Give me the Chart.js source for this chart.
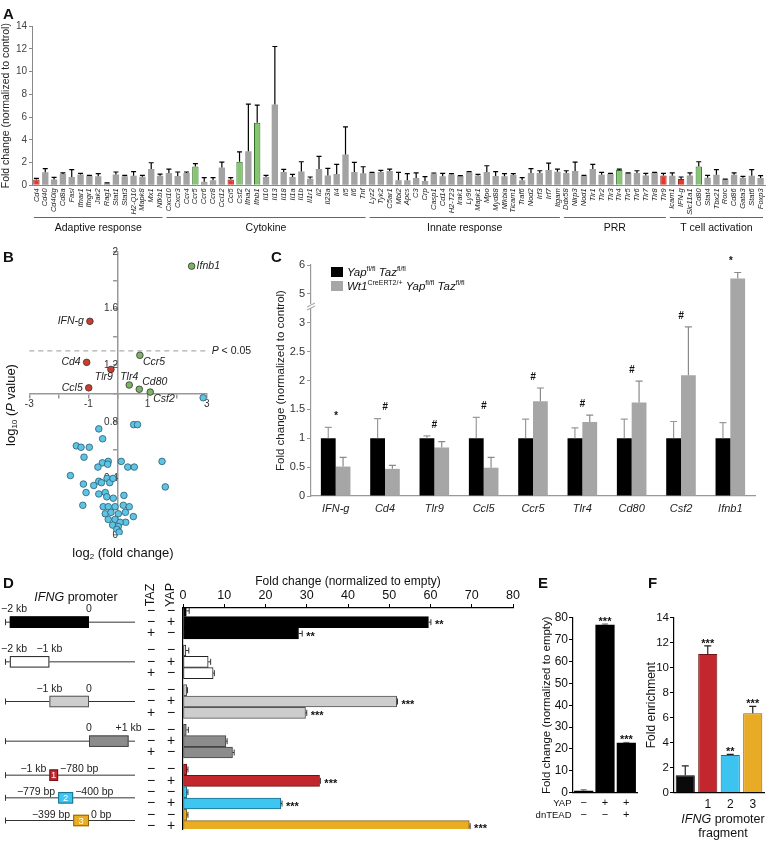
<!DOCTYPE html>
<html>
<head>
<meta charset="utf-8">
<script src="https://cdn.jsdelivr.net/npm/chart.js@4.4.0/dist/chart.umd.min.js"></script>
<style>
  html, body { margin: 0; padding: 0; background: #fff; overflow: hidden; }
  body { font-family: "Liberation Sans", Arial, Helvetica, sans-serif; color: #111; }
  #fig { position: relative; width: 783px; height: 847px; overflow: hidden; }
  canvas { position: absolute; }
  .panel { position: absolute; font-weight: bold; font-size: 15px; line-height: 15px; }
  .txt { position: absolute; white-space: nowrap; }
  .rot { position: absolute; white-space: nowrap; transform: translate(-50%, -50%) rotate(-90deg); }
  .ctr { position: absolute; white-space: nowrap; transform: translate(-50%, -50%); text-align: center; }
  sup { font-size: 7px; vertical-align: 5px; line-height: 0; }
  sub { font-size: 8px; vertical-align: -2px; line-height: 0; }
  .sw { display: inline-block; width: 12px; height: 10px; margin-right: 4px; vertical-align: -1px; }
</style>
</head>
<body>
<div id="fig">
  <canvas id="chartA" width="783" height="240" style="left:0;top:0"></canvas>
  <canvas id="chartB" width="255" height="330" style="left:0;top:240px"></canvas>
  <canvas id="chartC" width="533" height="290" style="left:250px;top:240px"></canvas>
  <canvas id="chartD" width="530" height="287" style="left:0;top:560px"></canvas>
  <canvas id="chartE" width="125" height="287" style="left:520px;top:560px"></canvas>
  <canvas id="chartF" width="143" height="287" style="left:640px;top:560px"></canvas>

  <div class="panel" style="left:3px;top:6px">A</div>
  <div class="panel" style="left:3px;top:249px">B</div>
  <div class="panel" style="left:271px;top:249px">C</div>
  <div class="panel" style="left:3px;top:575px">D</div>
  <div class="panel" style="left:538px;top:575px">E</div>
  <div class="panel" style="left:648px;top:575px">F</div>

  <div class="rot" style="left:10px;top:405px;font-size:13px">log<sub>10</sub> (<i>P</i> value)</div>
  <div class="ctr" style="left:123px;top:552px;font-size:13px">log<sub>2</sub> (fold change)</div>

  <div class="txt" style="left:331px;top:265px;font-size:11.5px;line-height:14px">
    <div><span class="sw" style="background:#000"></span><i>Yap</i><sup>fl/fl</sup> <i>Taz</i><sup>fl/fl</sup></div>
    <div><span class="sw" style="background:#a6a6a6"></span><i>Wt1</i><sup>CreERT2/+</sup> <i>Yap</i><sup>fl/fl</sup> <i>Taz</i><sup>fl/fl</sup></div>
  </div>

  <div class="ctr" style="left:76px;top:597px;font-size:12.5px"><i>IFNG</i> promoter</div>
  <div class="ctr" style="left:723px;top:826px;font-size:12.5px;line-height:14px"><i>IFNG</i> promoter<br>fragment</div>
</div>

<script>
// ---------- data ----------
// A: qPCR array
const aGroups = ['Adaptive response', 'Cytokine', 'Innate response', 'PRR', 'T cell activation'];
const aGroupSizes = [15, 23, 22, 12, 11];
const aGenes = [
  'Cd4','Cd40','Cd40lg','Cd8a','Fasl','Ifnar1','Ifngr1','Jak2','Rag1','Stat1','Stat3','H2-Q10','Mapk8','Mx1','Nfkb1',
  'Cxcl10','Cxcr3','Ccr4','Ccr5','Ccr6','Ccr8','Ccl12','Ccl5','Csf2','Ifna2','Ifnb1','Il10','Il13','Il18','Il1a','Il1b','Il1r1','Il2','Il23a','Il4','Il5','Il6','Tnf',
  'Lyz2','Tyk2','C5ar1','Mbl2','Apcs','C3','Crp','Casp1','Cd14','H2-T23','Irak1','Ly96','Mapk1','Mpo','Myd88','Nfkbia','Ticam1','Traf6','Nod2','Irf3','Irf7','Itgam',
  'Ddx58','Nlrp3','Nod1','Tlr1','Tlr2','Tlr3','Tlr4','Tlr5','Tlr6','Tlr7','Tlr8','Tlr9',
  'Icam1','IFN-g','Slc11a1','Cd80','Stat4','Tbx21','Rorc','Cd86','Gata3','Stat6','Foxp3'
];
const aValues = [
  0.52,1.14,0.5,1.0,0.73,0.95,0.85,0.8,0.15,0.95,0.8,0.85,0.76,1.43,0.85,
  1.08,0.82,1.08,1.66,0.32,0.44,1.57,0.5,2.08,3.0,5.5,0.73,7.1,1.17,0.73,1.22,0.58,1.43,0.87,0.99,2.71,1.17,1.05,
  1.08,1.17,1.25,0.44,0.44,0.64,0.38,1.02,0.79,0.96,0.82,1.14,0.87,1.17,0.82,0.79,0.9,0.44,1.08,1.08,1.34,1.2,
  1.08,1.25,0.82,1.43,0.93,0.99,1.34,1.08,1.08,0.87,1.1,0.87,
  0.85,0.55,0.87,1.66,0.67,0.93,0.52,0.93,0.67,0.85,0.64
];
const aErrors = [
  0.08,0.32,0.2,0.1,0.64,0.1,0.03,0.22,0.07,0.22,0.08,0.35,0.12,0.55,0.14,
  0.35,0.35,0.09,0.24,0.35,0.23,0.47,0.17,0.85,4.14,1.55,0.14,5.1,0.23,0.23,0.85,0.15,1.11,0.62,0.85,2.42,0.84,0.58,
  0.06,0.14,0.18,0.7,0.58,0.46,0.38,0.06,0.26,0.06,0.03,0.06,0.09,0.55,0.38,0.23,0.12,0.23,0.38,0.2,0.61,0.23,
  0.2,0.79,0.05,0.41,0.21,0.06,0.09,0.02,0.2,0.18,0.04,0.18,
  0.25,0.18,0.23,0.41,0.2,0.44,0.03,0.17,0.12,0.52,0.21
];
const aUp = ['Ccr5', 'Csf2', 'Ifnb1', 'Tlr4', 'Cd80'];
const aDown = ['Cd4', 'Ccl5', 'Tlr9', 'IFN-g'];

// B: volcano plot
const bGenes = ['Ifnb1', 'IFN-g', 'Cd4', 'Tlr9', 'Ccl5', 'Ccr5', 'Tlr4', 'Cd80', 'Csf2'];
const bLog2FC = [2.49, -0.95, -1.06, -0.24, -0.99, 0.74, 0.38, 0.72, 1.09];
const bLogP = [1.90, 1.51, 1.22, 1.17, 1.04, 1.27, 1.06, 1.03, 1.01];
const bOtherLog2FC = [
  2.88, -0.65, -0.52, 0.53, 0.66, -1.41, -1.25, -0.97, -1.15, -0.33, -0.53, -0.35, -0.68, 0.11, 0.33, 0.55, 1.49,
  -1.61, -1.17, -0.82, -0.65, -0.56, -0.37, -0.28, -0.17, 1.6, -1.08, -0.65, -0.43, -0.38, 0.2, -0.16, -1.19, -0.5,
  -0.33, -0.1, 0.18, 0.38, -0.43, -0.24, 0.01, 0.25, 0.52, -0.33, -0.1, 0.26, 0.07, -0.18, 0.01, -0.04, 0.04
];
const bOtherLogP = [
  0.97, 0.75, 0.68, 0.78, 0.78, 0.63, 0.62, 0.62, 0.55, 0.52, 0.51, 0.50, 0.48, 0.52, 0.48, 0.48, 0.52,
  0.42, 0.36, 0.35, 0.38, 0.37, 0.40, 0.37, 0.40, 0.34, 0.30, 0.29, 0.30, 0.27, 0.28, 0.26, 0.21, 0.20,
  0.20, 0.20, 0.21, 0.20, 0.15, 0.16, 0.15, 0.16, 0.13, 0.11, 0.11, 0.09, 0.09, 0.07, 0.06, 0.04, 0.02
];
const bThreshold = 0.05;

// C: validation
const cGenes = ['IFN-g', 'Cd4', 'Tlr9', 'Ccl5', 'Ccr5', 'Tlr4', 'Cd80', 'Csf2', 'Ifnb1'];
const cControl = [1, 1, 1, 1, 1, 1, 1, 1, 1];
const cControlErr = [0.19, 0.34, 0.04, 0.36, 0.33, 0.18, 0.33, 0.29, 0.27];
const cMutant = [0.51, 0.47, 0.84, 0.49, 1.64, 1.28, 1.62, 2.09, 5.53];
const cMutantErr = [0.16, 0.06, 0.1, 0.18, 0.23, 0.12, 0.37, 0.84, 0.21];
const cSig = ['*', '#', '#', '#', '#', '#', '#', '#', '*'];
const cTicks = ['0', '0.5', '1', '1.5', '2', '2.5', '3', '5', '6'];

// D: promoter luciferase
const dGroupSizes = [3, 3, 3, 3, 2, 2, 2];
const dTaz = ['−','−','+', '−','−','+', '−','−','+', '−','−','+', '−','−', '−','−', '−','−'];
const dYap = ['−','+','−', '−','+','−', '−','+','−', '−','+','−', '−','+', '−','+', '−','+'];
const dValues = [0.8, 59.5, 28.0, 0.7, 6.1, 7.3, 0.9, 51.8, 29.7, 0.8, 10.4, 12.0, 0.9, 33.1, 0.9, 23.7, 0.9, 69.4];
const dErrors = [0.7, 0.6, 0.9, 0.7, 0.6, 0.3, 0.2, 0.2, 0.3, 0.5, 0.3, 0.4, 0.3, 0.2, 0.3, 0.3, 0.3, 0.2];
const dSig = ['', '**', '**', '', '', '', '', '***', '***', '', '', '', '', '***', '', '***', '', '***'];
const dFragStart = [-2, -2, -1, 0, -1, -0.779, -0.399];   // kb
const dFragEnd = [0, -1, 0, 1, -0.78, -0.4, 0];
const dLeftLabel = ['−2 kb', '−2 kb', '−1 kb', '0', '−1 kb', '−779 bp', '−399 bp'];
const dRightLabel = ['0', '−1 kb', '0', '+1 kb', '−780 bp', '−400 bp', '0 bp'];
const dBoxLabel = ['', '', '', '', '1', '2', '3'];

// E: dnTEAD
const eYap = ['−', '+', '+'];
const eDnTead = ['−', '−', '+'];
const eValues = [0.9, 76.8, 22.8];
const eErrors = [0.4, 0.3, 0.2];
const eSig = ['', '***', '***'];

// F: ChIP
const fLabels = ['', '1', '2', '3'];
const fValues = [1.4, 11.1, 3.02, 6.35];
const fErrors = [0.75, 0.65, 0.05, 0.55];
const fSig = ['', '***', '**', '***'];

// ---------- shared ----------
const FONT = '"Liberation Sans", Arial, Helvetica, sans-serif';
Chart.defaults.font.family = FONT;
Chart.defaults.color = '#222';

const baseOptions = () => ({
  responsive: false,
  animation: false,
  events: [],
  plugins: { legend: { display: false }, tooltip: { enabled: false } }
});

// error whiskers (upper only) from dataset.errTop
const errorBars = {
  id: 'errorBars',
  afterDatasetsDraw(chart) {
    const ctx = chart.ctx;
    const horiz = chart.options.indexAxis === 'y';
    chart.data.datasets.forEach((ds, i) => {
      if (!ds.errTop) return;
      const meta = chart.getDatasetMeta(i);
      const vScale = chart.scales[horiz ? meta.xAxisID : meta.yAxisID];
      ctx.save();
      ctx.strokeStyle = ds.errColor || '#000';
      ctx.lineWidth = ds.errWidth || 1;
      const cap = ds.errCap || 3;
      meta.data.forEach((bar, j) => {
        const v = ds.data[j], top = ds.errTop[j];
        if (v == null || top == null) return;
        const p0 = vScale.getPixelForValue(v), p1 = vScale.getPixelForValue(top);
        ctx.beginPath();
        if (horiz) {
          ctx.moveTo(p0, bar.y); ctx.lineTo(p1, bar.y);
          ctx.moveTo(p1, bar.y - cap); ctx.lineTo(p1, bar.y + cap);
        } else {
          ctx.moveTo(bar.x, p0); ctx.lineTo(bar.x, p1);
          ctx.moveTo(bar.x - cap, p1); ctx.lineTo(bar.x + cap, p1);
        }
        ctx.stroke();
      });
      ctx.restore();
    });
  }
};

// ---------- A ----------
const aColors = aGenes.map(g => aDown.includes(g) ? '#e33b2b' : aUp.includes(g) ? '#86c673' : '#a3a3a3');
const aBorders = aGenes.map(g => aDown.includes(g) ? '#8e1f16' : aUp.includes(g) ? '#2f6a25' : '#a3a3a3');

const aGroupPlugin = {
  id: 'aGroups',
  afterDraw(chart) {
    const ctx = chart.ctx, x = chart.scales.x;
    const half = (x.getPixelForValue(1) - x.getPixelForValue(0)) / 2;
    let start = 0;
    ctx.save();
    ctx.strokeStyle = '#666';
    ctx.lineWidth = 1;
    ctx.fillStyle = '#111';
    ctx.font = '10.5px ' + FONT;
    ctx.textAlign = 'center';
    ctx.textBaseline = 'middle';
    aGroupSizes.forEach((n, g) => {
      const x0 = x.getPixelForValue(start) - half + 2;
      const x1 = x.getPixelForValue(start + n - 1) + half - 2;
      ctx.beginPath();
      ctx.moveTo(x0, 217.5); ctx.lineTo(x1, 217.5);
      ctx.stroke();
      ctx.fillText(aGroups[g], (x0 + x1) / 2, 228);
      start += n;
    });
    ctx.restore();
  }
};

new Chart(document.getElementById('chartA'), {
  type: 'bar',
  data: {
    labels: aGenes,
    datasets: [{
      data: aValues,
      errTop: aValues.map((v, i) => v + aErrors[i]),
      errCap: 2.5,
      errWidth: 1.2,
      backgroundColor: aColors,
      borderColor: aBorders,
      borderWidth: aGenes.map(g => aUp.includes(g) || aDown.includes(g) ? 1 : 0),
      barPercentage: 0.72,
      categoryPercentage: 1
    }]
  },
  options: Object.assign(baseOptions(), {
    layout: { padding: { top: 26, right: 18, left: 0, bottom: 0 } },
    scales: {
      x: {
        grid: { drawOnChartArea: false, drawTicks: false },
        border: { color: '#888' },
        ticks: { autoSkip: false, minRotation: 90, maxRotation: 90, padding: 3,
                 font: { size: 7.5, style: 'italic' }, color: '#222' },
        afterFit: s => { s.height = 54.7; }
      },
      y: {
        min: 0, max: 14,
        ticks: { stepSize: 2, font: { size: 10 }, color: '#444', padding: 2 },
        grid: { drawOnChartArea: false, tickLength: 3, color: '#888' },
        border: { color: '#888' },
        title: { display: true, text: 'Fold change (normalized to control)', font: { size: 10.5 },
                 color: '#222', padding: { top: 0, bottom: 0 } },
        afterFit: s => { s.width = 32; }
      }
    }
  }),
  plugins: [errorBars, aGroupPlugin]
});

// ---------- B ----------
const bLabelPos = ['r', 'l', 'l', 'bl', 'l', 'br', 't', 'tr', 'br'];
const bPlugin = {
  id: 'bExtras',
  beforeDatasetsDraw(chart) {
    const ctx = chart.ctx, ys = chart.scales.y, a = chart.chartArea;
    const yt = ys.getPixelForValue(-Math.log10(bThreshold));
    ctx.save();
    ctx.setLineDash([5, 4]);
    ctx.strokeStyle = '#999';
    ctx.lineWidth = 1;
    ctx.beginPath();
    ctx.moveTo(a.left, yt); ctx.lineTo(a.right + 2, yt);
    ctx.stroke();
    ctx.setLineDash([]);
    ctx.fillStyle = '#222';
    ctx.textBaseline = 'middle';
    ctx.font = 'italic 10.5px ' + FONT;
    const x0 = a.right + 5;
    ctx.fillText('P', x0, yt);
    const w = ctx.measureText('P ').width;
    ctx.font = '10.5px ' + FONT;
    ctx.fillText('< 0.05', x0 + w, yt);
    ctx.restore();
  },
  afterDatasetsDraw(chart) {
    const ctx = chart.ctx, meta = chart.getDatasetMeta(1);
    ctx.save();
    ctx.fillStyle = '#222';
    ctx.font = 'italic 10.5px ' + FONT;
    meta.data.forEach((pt, i) => {
      const p = bLabelPos[i];
      let x = pt.x, y = pt.y;
      ctx.textBaseline = 'middle';
      if (p === 'r') { ctx.textAlign = 'left'; x += 5; }
      else if (p === 'l') { ctx.textAlign = 'right'; x -= 6; }
      else if (p === 'bl') { ctx.textAlign = 'right'; x += 2; y += 8; }
      else if (p === 'br') { ctx.textAlign = 'left'; x += 3; y += 7; }
      else if (p === 't') { ctx.textAlign = 'center'; y -= 8; }
      else if (p === 'tr') { ctx.textAlign = 'left'; x += 3; y -= 7; }
      ctx.fillText(bGenes[i], x, y);
    });
    ctx.restore();
  }
};

new Chart(document.getElementById('chartB'), {
  type: 'scatter',
  data: {
    datasets: [
      {
        data: bOtherLog2FC.map((x, i) => ({ x, y: bOtherLogP[i] })),
        backgroundColor: '#5fc3e4', borderColor: '#2a5d70', borderWidth: 0.8, pointRadius: 3.3
      },
      {
        data: bLog2FC.map((x, i) => ({ x, y: bLogP[i] })),
        backgroundColor: bLog2FC.map(v => v < 0 ? '#d23a2e' : '#79b562'),
        borderColor: '#333', borderWidth: 0.8, pointRadius: 3.3
      }
    ]
  },
  options: Object.assign(baseOptions(), {
    layout: { padding: { left: 29.3, right: 48.3, top: 12, bottom: 35 } },
    scales: {
      x: {
        type: 'linear', min: -3, max: 3, position: { y: 1 },
        ticks: { stepSize: 1, callback: v => Math.abs(v) % 2 === 1 ? String(v) : '',
                 font: { size: 10 }, color: '#333', padding: 1 },
        grid: { drawOnChartArea: false, tickLength: 4, color: '#999', lineWidth: 1.5 },
        border: { color: '#999', width: 1.5 }
      },
      y: {
        type: 'linear', min: 0, max: 2, position: { x: 0 },
        ticks: { stepSize: 0.2, font: { size: 10 }, color: '#333', padding: 2,
                 callback: v => { const k = Math.round(v * 10); return k % 4 === 0 ? String(k / 10) : ''; } },
        grid: { drawOnChartArea: false, tickLength: 4, color: '#999', lineWidth: 1.5 },
        border: { color: '#999', width: 1.5 }
      }
    }
  }),
  plugins: [bPlugin]
});

// ---------- C ----------
// axis break: values above 4 are drawn at half scale, the 3-4 range is cut out
const brk = v => v <= 3 ? v : 3 + (v - 4) / 2;

const cPlugin = {
  id: 'cExtras',
  afterDraw(chart) {
    const ctx = chart.ctx, xs = chart.scales.x, ys = chart.scales.y, a = chart.chartArea;
    ctx.save();
    // break mark on the y axis
    const yb = ys.getPixelForValue(3.29);
    ctx.fillStyle = '#fff';
    ctx.fillRect(a.left - 2, yb - 2, 4, 4);
    ctx.strokeStyle = '#999';
    ctx.lineWidth = 1;
    ctx.beginPath();
    ctx.moveTo(a.left - 4, yb + 1); ctx.lineTo(a.left + 4, yb - 3);
    ctx.moveTo(a.left - 4, yb + 4); ctx.lineTo(a.left + 4, yb);
    ctx.stroke();
    // significance marks
    ctx.fillStyle = '#111';
    ctx.font = 'italic bold 10px ' + FONT;
    ctx.textAlign = 'center';
    ctx.textBaseline = 'middle';
    cGenes.forEach((g, i) => {
      const top = Math.max(brk(cControl[i] + cControlErr[i]), brk(cMutant[i] + cMutantErr[i]));
      ctx.fillText(cSig[i], xs.getPixelForValue(i), ys.getPixelForValue(top) - 11);
    });
    ctx.restore();
  }
};

new Chart(document.getElementById('chartC'), {
  type: 'bar',
  data: {
    labels: cGenes,
    datasets: [
      {
        data: cControl.map(brk), errTop: cControl.map((v, i) => brk(v + cControlErr[i])),
        backgroundColor: '#000', errColor: '#9a9a9a', errWidth: 1.2, errCap: 3.5,
        barPercentage: 1, categoryPercentage: 0.6
      },
      {
        data: cMutant.map(brk), errTop: cMutant.map((v, i) => brk(v + cMutantErr[i])),
        backgroundColor: '#a6a6a6', errColor: '#8a8a8a', errWidth: 1.2, errCap: 3.5,
        barPercentage: 1, categoryPercentage: 0.6
      }
    ]
  },
  options: Object.assign(baseOptions(), {
    layout: { padding: { top: 25, right: 28, left: 0, bottom: 0 } },
    scales: {
      x: {
        grid: { display: false, drawTicks: false },
        border: { color: '#999', width: 1.2 },
        ticks: { font: { size: 11, style: 'italic' }, color: '#222', padding: 6 },
        afterFit: s => { s.height = 34; }
      },
      y: {
        min: 0, max: 4,
        ticks: { stepSize: 0.5, font: { size: 11 }, color: '#333', padding: 2,
                 callback: (v, i) => cTicks[i] },
        grid: { drawOnChartArea: false, tickLength: 4, color: '#999' },
        border: { color: '#999', width: 1.2 },
        title: { display: true, text: 'Fold change (normalized to control)', font: { size: 11.5 },
                 color: '#222', padding: { top: 24, bottom: 0 } },
        afterFit: s => { s.width = 61; }
      }
    }
  }),
  plugins: [errorBars, cPlugin]
});

// ---------- D ----------
const dColors = ['#000000', '#ffffff', '#cdcdcd', '#8c8c8c', '#c1272d', '#3ec5f0', '#e9ad24'];
const dEdge = ['#000000', '#222222', '#555555', '#444444', '#6e1216', '#1b6f8c', '#8a6412'];
// rows are laid on half-row slots: one empty slot between rows, an extra one between the big constructs
const dSlot = [], dGroupOf = [];
let slot = 0;
dGroupSizes.forEach((n, g) => {
  for (let k = 0; k < n; k++) { dSlot.push(slot); dGroupOf.push(g); slot += 2; }
  if (g < 4) slot += 1;
});
const dSlots = slot - 1;
const dData = Array(dSlots).fill(null), dTop = Array(dSlots).fill(null);
const dBg = Array(dSlots).fill('#fff'), dBd = Array(dSlots).fill('#000');
dValues.forEach((v, i) => {
  dData[dSlot[i]] = v;
  dTop[dSlot[i]] = v + dErrors[i];
  dBg[dSlot[i]] = dColors[dGroupOf[i]];
  dBd[dSlot[i]] = dEdge[dGroupOf[i]];
});

const dPlugin = {
  id: 'dExtras',
  afterDraw(chart) {
    const ctx = chart.ctx, xs = chart.scales.x, ys = chart.scales.y;
    ctx.save();
    // stars
    ctx.fillStyle = '#111';
    ctx.font = 'bold 11px ' + FONT;
    ctx.textAlign = 'left';
    ctx.textBaseline = 'alphabetic';
    dValues.forEach((v, i) => {
      if (!dSig[i]) return;
      ctx.fillText(dSig[i], xs.getPixelForValue(v + dErrors[i]) + 4, ys.getPixelForValue(dSlot[i]) + 6);
    });
    // TAZ / YAP columns
    ctx.font = '14px ' + FONT;
    ctx.textAlign = 'center';
    ctx.textBaseline = 'middle';
    dValues.forEach((v, i) => {
      const y = ys.getPixelForValue(dSlot[i]);
      ctx.fillText(dTaz[i], 151, y);
      ctx.fillText(dYap[i], 171, y);
    });
    ctx.font = '12.5px ' + FONT;
    [['TAZ', 151], ['YAP', 171]].forEach(([t, x]) => {
      ctx.save();
      ctx.translate(x, 35);
      ctx.rotate(-Math.PI / 2);
      ctx.fillText(t, 0, 0);
      ctx.restore();
    });
    // promoter constructs
    const kb = v => 89 + v * 39.6;
    let row = 0;
    dGroupSizes.forEach((n, g) => {
      let yc = 0;
      for (let k = 0; k < n; k++) yc += ys.getPixelForValue(dSlot[row + k]);
      yc /= n;
      row += n;
      ctx.strokeStyle = '#333';
      ctx.lineWidth = 1;
      ctx.beginPath();
      ctx.moveTo(5, yc); ctx.lineTo(135, yc);
      ctx.moveTo(5.5, yc - 3); ctx.lineTo(5.5, yc + 3);
      ctx.stroke();
      const x0 = kb(dFragStart[g]), x1 = kb(dFragEnd[g]);
      const h = 11.5;
      ctx.fillStyle = dColors[g];
      ctx.fillRect(x0, yc - h / 2, x1 - x0, h);
      ctx.strokeStyle = dEdge[g];
      ctx.strokeRect(x0 + 0.5, yc - h / 2 + 0.5, x1 - x0 - 1, h - 1);
      ctx.fillStyle = '#222';
      ctx.font = '10.5px ' + FONT;
      ctx.textBaseline = 'alphabetic';
      if (!dBoxLabel[g]) {
        ctx.textAlign = 'center';
        const wl = ctx.measureText(dLeftLabel[g]).width;
        ctx.fillText(dLeftLabel[g], Math.max(x0, wl / 2 + 1), yc - h / 2 - 4);
        ctx.fillText(dRightLabel[g], x1, yc - h / 2 - 4);
      } else {
        ctx.textAlign = 'right';
        ctx.fillText(dLeftLabel[g], x0 - 3, yc - 3);
        ctx.textAlign = 'left';
        ctx.fillText(dRightLabel[g], x1 + 2, yc - 3);
        ctx.fillStyle = '#fff';
        ctx.textAlign = 'center';
        ctx.textBaseline = 'middle';
        ctx.font = '9.5px ' + FONT;
        ctx.fillText(dBoxLabel[g], (x0 + x1) / 2, yc + 0.5);
      }
    });
    ctx.restore();
  }
};

new Chart(document.getElementById('chartD'), {
  type: 'bar',
  data: {
    labels: Array(dSlots).fill(''),
    datasets: [{
      data: dData, errTop: dTop, errCap: 3, errWidth: 1, errColor: '#333',
      backgroundColor: dBg, borderColor: dBd, borderWidth: 1, borderSkipped: false,
      barThickness: 11
    }]
  },
  options: Object.assign(baseOptions(), {
    indexAxis: 'y',
    layout: { padding: { top: 0, right: 17, left: 0, bottom: 18 } },
    scales: {
      x: {
        position: 'top', min: 0, max: 80,
        ticks: { stepSize: 10, font: { size: 12.5 }, color: '#111', padding: 1 },
        grid: { drawOnChartArea: false, tickLength: 4, color: '#000' },
        border: { color: '#000', width: 1.2 },
        title: { display: true, text: 'Fold change (normalized to empty)', font: { size: 12 },
                 color: '#111', padding: { top: 14.5, bottom: 0 } },
        afterFit: s => { s.height = 48; }
      },
      y: {
        ticks: { display: false },
        grid: { display: false, drawTicks: false },
        border: { color: '#000', width: 1.2 },
        afterFit: s => { s.width = 183; }
      }
    }
  }),
  plugins: [errorBars, dPlugin]
});

// ---------- E ----------
const ePlugin = {
  id: 'eExtras',
  afterDraw(chart) {
    const ctx = chart.ctx, xs = chart.scales.x, ys = chart.scales.y;
    ctx.save();
    ctx.fillStyle = '#111';
    ctx.font = '9.5px ' + FONT;
    ctx.textBaseline = 'middle';
    ctx.textAlign = 'right';
    ctx.fillText('YAP', 51.5, 243);
    ctx.fillText('dnTEAD', 51.5, 255);
    ctx.textAlign = 'center';
    ctx.font = '11px ' + FONT;
    eValues.forEach((v, i) => {
      const x = xs.getPixelForValue(i);
      ctx.fillText(eYap[i], x, 243);
      ctx.fillText(eDnTead[i], x, 255);
      if (eSig[i]) {
        ctx.font = 'bold 11px ' + FONT;
        ctx.textBaseline = 'alphabetic';
        ctx.fillText(eSig[i], x, ys.getPixelForValue(v + eErrors[i]) + 1);
        ctx.textBaseline = 'middle';
        ctx.font = '11px ' + FONT;
      }
    });
    ctx.restore();
  }
};

new Chart(document.getElementById('chartE'), {
  type: 'bar',
  data: {
    labels: eYap.map((v, i) => v + '/' + eDnTead[i]),
    datasets: [{
      data: eValues, errTop: eValues.map((v, i) => v + eErrors[i]), errColor: '#555', errCap: 3,
      backgroundColor: '#000', barPercentage: 0.9, categoryPercentage: 1
    }]
  },
  options: Object.assign(baseOptions(), {
    layout: { padding: { top: 57.7, right: 8, left: 0, bottom: 0 } },
    scales: {
      x: {
        ticks: { display: false },
        grid: { display: false, drawTicks: false },
        border: { color: '#000', width: 1.2 },
        afterFit: s => { s.height = 54.3; }
      },
      y: {
        min: 0, max: 80,
        ticks: { stepSize: 10, font: { size: 12 }, color: '#111', padding: 1 },
        grid: { drawOnChartArea: false, tickLength: 4, color: '#000' },
        border: { color: '#000', width: 1.2 },
        title: { display: true, text: 'Fold change (normalized to empty)', font: { size: 11.5 },
                 color: '#111', padding: { top: 20, bottom: 0 } },
        afterFit: s => { s.width = 53; }
      }
    }
  }),
  plugins: [errorBars, ePlugin]
});

// ---------- F ----------
const fColors = ['#0a0a0a', '#c1272d', '#3cc3ef', '#e8ab25'];
const fEdges = ['#000000', '#6e1216', '#1b6f8c', '#8a6412'];
const fPlugin = {
  id: 'fExtras',
  afterDraw(chart) {
    const ctx = chart.ctx, xs = chart.scales.x, ys = chart.scales.y;
    ctx.save();
    ctx.fillStyle = '#111';
    ctx.font = 'bold 11px ' + FONT;
    ctx.textAlign = 'center';
    ctx.textBaseline = 'alphabetic';
    fValues.forEach((v, i) => {
      if (fSig[i]) ctx.fillText(fSig[i], xs.getPixelForValue(i), ys.getPixelForValue(v + fErrors[i]) + 1);
    });
    ctx.restore();
  }
};

new Chart(document.getElementById('chartF'), {
  type: 'bar',
  data: {
    labels: fLabels,
    datasets: [{
      data: fValues, errTop: fValues.map((v, i) => v + fErrors[i]), errColor: '#222', errCap: 3.5, errWidth: 1.2,
      backgroundColor: fColors, borderColor: fEdges, borderWidth: 1,
      barPercentage: 0.85, categoryPercentage: 1
    }]
  },
  options: Object.assign(baseOptions(), {
    layout: { padding: { top: 57.7, right: 19, left: 0, bottom: 0 } },
    scales: {
      x: {
        ticks: { font: { size: 12 }, color: '#111', padding: 5 },
        grid: { display: false, drawTicks: false },
        border: { color: '#000', width: 1.2 },
        afterFit: s => { s.height = 54.3; }
      },
      y: {
        min: 0, max: 14,
        ticks: { stepSize: 2, font: { size: 11.5 }, color: '#111', padding: 1 },
        grid: { drawOnChartArea: false, tickLength: 4, color: '#000' },
        border: { color: '#000', width: 1.2 },
        title: { display: true, text: 'Fold enrichment', font: { size: 12 },
                 color: '#111', padding: { top: 4, bottom: 0 } },
        afterFit: s => { s.width = 34; }
      }
    }
  }),
  plugins: [errorBars, fPlugin]
});
</script>
</body>
</html>
